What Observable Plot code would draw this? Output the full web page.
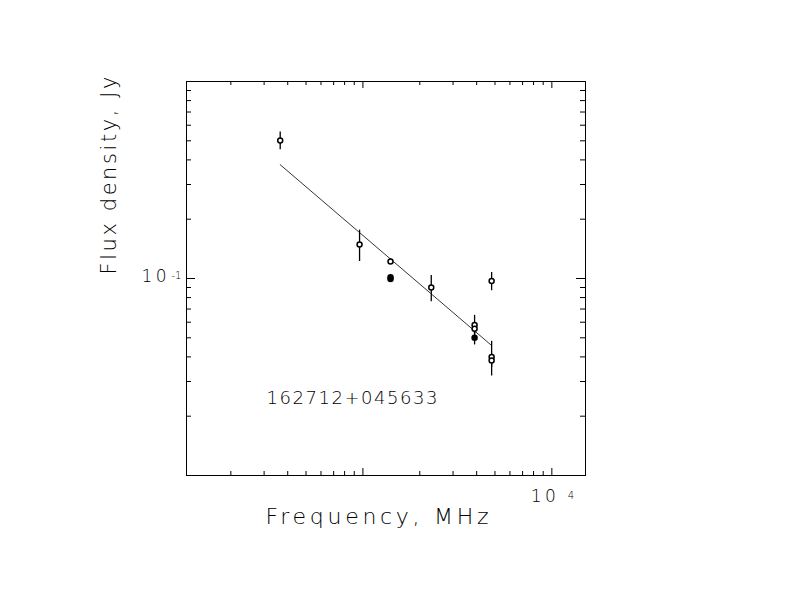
<!DOCTYPE html>
<html><head><meta charset="utf-8">
<script src="https://cdn.jsdelivr.net/npm/d3@7"></script>
<script src="https://cdn.jsdelivr.net/npm/@observablehq/plot@0.6"></script>
<style>html,body{margin:0;padding:0;background:#fff;} svg{display:block}</style>
</head><body><div id="chart"></div>
<script>
// Measurements of 162712+045633
const freqMHz = [365, 960, 1400, 1400, 1400, 2300, 3900, 3900, 3900, 4800, 4800, 4800];
const fluxJy  = [0.502, 0.149, 0.122, 0.0995, 0.1015, 0.090, 0.058, 0.0556, 0.050, 0.097, 0.040, 0.0384];
const errJy   = [0.052, 0.027, 0.004, 0.002, 0.002, 0.0137, 0.007, 0.003, 0.004, 0.0103, 0.008, 0.003];
const filled  = [false, false, false, true, true, false, false, false, true, false, false, false];
// Fitted spectrum end points
const fitFreq = [365, 4800];
const fitFlux = [0.378, 0.0457];
// Axes
const xDomain = [116.5, 15070];
const yDomain = [0.01, 1];
const xMajor = [1000, 10000];
const xMinor = [200, 300, 400, 500, 600, 700, 800, 900, 2000, 3000, 4000, 5000, 6000, 7000, 8000, 9000];
const yMajor = [0.1];
const yMinor = [0.02, 0.03, 0.04, 0.05, 0.06, 0.07, 0.08, 0.09, 0.2, 0.3, 0.4, 0.5, 0.6, 0.7, 0.8, 0.9];
const xTickLabel = {value: 10000, base: "10", exp: "4"};
const yTickLabel = {value: 0.1, base: "10", exp: "-1"};
const xTitle = "Frequency, MHz";
const yTitle = "Flux density, Jy";
const sourceName = "162712+045633";

const pts = freqMHz.map((f, i) => ({f, s: fluxJy[i], e: errJy[i], filled: filled[i]}));
const fit = fitFreq.map((f, i) => ({f, s: fitFlux[i]}));

const W = 792, H = 612;
const mL = 186, mR = 207, mT = 81, mB = 137;
const pw = W - mL - mR, ph = H - mT - mB;
const font = "'DejaVu Sans', sans-serif";

const plot = Plot.plot({
  width: W, height: H,
  marginLeft: mL, marginRight: mR, marginTop: mT, marginBottom: mB,
  x: {type: "log", domain: xDomain, axis: null},
  y: {type: "log", domain: yDomain, axis: null},
  style: {fontFamily: font, background: "white", color: "black"},
  marks: [
    Plot.frame({stroke: "black", strokeWidth: 1}),
    // bottom ticks (inward)
    Plot.tickX(xMinor, {x: d => d, insetTop: ph - 4, stroke: "black"}),
    Plot.tickX(xMajor, {x: d => d, insetTop: ph - 7, stroke: "black"}),
    // top ticks
    Plot.tickX(xMinor, {x: d => d, insetBottom: ph - 4, stroke: "black"}),
    Plot.tickX(xMajor, {x: d => d, insetBottom: ph - 7, stroke: "black"}),
    // left ticks
    Plot.tickY(yMinor, {y: d => d, insetRight: pw - 5, stroke: "black"}),
    Plot.tickY(yMajor, {y: d => d, insetRight: pw - 9, stroke: "black"}),
    // right ticks
    Plot.tickY(yMinor, {y: d => d, insetLeft: pw - 5, stroke: "black"}),
    Plot.tickY(yMajor, {y: d => d, insetLeft: pw - 9, stroke: "black"}),
    // tick labels
    Plot.text([xTickLabel], {x: "value", frameAnchor: "bottom", text: "base", dx: 4, dy: 26, textAnchor: "end", fontSize: 17, fill: "black"}),
    Plot.text([xTickLabel], {x: "value", frameAnchor: "bottom", text: "exp", dx: 16, dy: 23, textAnchor: "start", fontSize: 10, fill: "black"}),
    Plot.text([yTickLabel], {y: "value", frameAnchor: "left", text: "base", dx: -20, dy: -2, textAnchor: "end", fontSize: 17, fill: "black"}),
    Plot.text([yTickLabel], {y: "value", frameAnchor: "left", text: "exp", dx: -5, dy: -3, textAnchor: "end", fontSize: 10, fill: "black"}),
    // axis titles
    Plot.text([xTitle], {frameAnchor: "bottom", text: d => d, dx: -9, dy: 48, fontSize: 22, fill: "black"}),
    Plot.text([yTitle], {frameAnchor: "left", text: d => d, dx: -77, dy: -4, rotate: -90, fontSize: 21, fill: "black"}),
    // source name
    Plot.text([sourceName], {frameAnchor: "bottom-left", text: d => d, dx: 80, dy: -72, textAnchor: "start", fontSize: 18, fill: "black"}),
    // fit line
    Plot.line(fit, {x: "f", y: "s", stroke: "black", strokeWidth: 0.8}),
    // error bars
    Plot.ruleX(pts, {x: "f", y1: d => d.s - d.e, y2: d => d.s + d.e, stroke: "black", strokeWidth: 1.3}),
    // points
    Plot.dot(pts, {x: "f", y: "s", r: 2.5, stroke: "black", strokeWidth: 1.5, fill: d => d.filled ? "black" : "white"})
  ]
});
document.getElementById("chart").appendChild(plot);

// stretch text to the reference's wide stroke-font spacing
const fitLen = new Map([[xTitle, 223], [yTitle, 198], [sourceName, 171], ["10", 25]]);
const svg = d3.select(plot);
svg.selectAll("text")
  .style("font-weight", 200)
  .each(function() {
    const len = fitLen.get(this.textContent);
    if (len) d3.select(this).attr("textLength", len).attr("lengthAdjust", "spacing");
  });
</script>
</body></html>
